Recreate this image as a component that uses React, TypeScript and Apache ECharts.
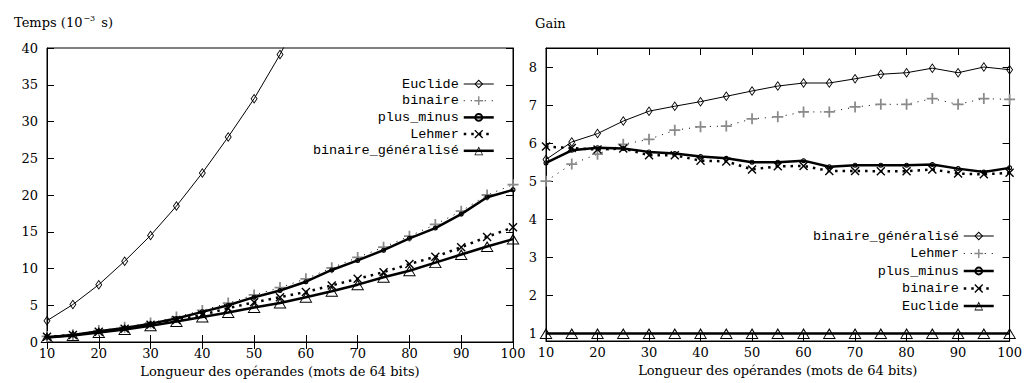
import React, { useEffect, useRef } from "react";
import * as echarts from "echarts";

// ---- data ----
const lengths = [10, 15, 20, 25, 30, 35, 40, 45, 50, 55, 60, 65, 70, 75, 80, 85, 90, 95, 100];

// Left chart: Temps (10^-3 s)
const tEuclide = [2.9, 5.1, 7.8, 11.0, 14.5, 18.5, 23.0, 27.9, 33.1, 39.1, 46, 52, 60, 68, 76, 85, 93, 104, 110];
const tBinaire = [0.75, 1.0, 1.55, 2.0, 2.6, 3.4, 4.3, 5.3, 6.4, 7.4, 8.6, 10.1, 11.5, 12.9, 14.4, 16.0, 17.8, 20.0, 21.4];
const tPlusMinus = [0.65, 0.95, 1.45, 1.9, 2.5, 3.2, 4.1, 5.0, 6.1, 7.0, 8.2, 9.8, 11.1, 12.5, 14.1, 15.5, 17.4, 19.7, 20.7];
const tLehmer = [0.7, 0.95, 1.4, 1.8, 2.35, 3.0, 3.7, 4.6, 5.4, 6.1, 6.8, 7.7, 8.6, 9.5, 10.6, 11.6, 12.9, 14.3, 15.6];
const tBinGen = [0.6, 0.9, 1.3, 1.7, 2.2, 2.8, 3.4, 4.0, 4.7, 5.3, 6.1, 6.9, 7.8, 8.8, 9.7, 10.8, 11.9, 13.0, 14.0];

// Right chart: Gain
const gBinGen = [5.57, 6.03, 6.25, 6.58, 6.84, 6.97, 7.09, 7.23, 7.37, 7.5, 7.58, 7.58, 7.69, 7.81, 7.85, 7.97, 7.85, 8.0, 7.93];
const gLehmer = [5.0, 5.45, 5.71, 5.97, 6.1, 6.34, 6.43, 6.45, 6.64, 6.69, 6.82, 6.82, 6.95, 7.02, 7.02, 7.17, 7.02, 7.17, 7.15];
const gPlusMinus = [5.48, 5.81, 5.88, 5.86, 5.77, 5.73, 5.65, 5.6, 5.5, 5.5, 5.54, 5.38, 5.42, 5.42, 5.42, 5.44, 5.33, 5.24, 5.35];
const gBinaire = [5.91, 5.87, 5.83, 5.86, 5.68, 5.68, 5.54, 5.52, 5.31, 5.39, 5.4, 5.27, 5.27, 5.26, 5.26, 5.31, 5.2, 5.18, 5.22];
const gEuclide = [1, 1, 1, 1, 1, 1, 1, 1, 1, 1, 1, 1, 1, 1, 1, 1, 1, 1, 1];

const leftNames = ["Euclide", "binaire", "plus_minus", "Lehmer", "binaire_généralisé"];
const rightNames = ["binaire_généralisé", "Lehmer", "plus_minus", "binaire", "Euclide"];
const leftTicksY = [0, 40, 5];
const rightTickValues = [1, 2, 3, 4, 5, 6, 7, 8];
const xTicks = [10, 100, 10];

const xAxisName = "Longueur des opérandes (mots de 64 bits)";

// outline (unfilled) point shapes, gnuplot-like
const DIAMOND = "path://M5,0L10,5L5,10L0,5Z M5,1.5L1.5,5L5,8.5L8.5,5Z";
const CIRCLE = "path://M5,0A5,5 0 1,1 5,10A5,5 0 1,1 5,0Z M5,2.2A2.8,2.8 0 1,0 5,7.8A2.8,2.8 0 1,0 5,2.2Z";
const TRIANGLE = "path://M5,0L10,10L0,10Z M5,2.1L1.2,9.1L8.8,9.1Z";
const PLUS = "path://M4.2,0H5.8V4.2H10V5.8H5.8V10H4.2V5.8H0V4.2H4.2Z";
const CROSS = "path://M0,1.1L1.1,0L5,3.9L8.9,0L10,1.1L6.1,5L10,8.9L8.9,10L5,6.1L1.1,10L0,8.9L3.9,5Z";

const SERIF = "DejaVu Serif";
const MONO = "Liberation Mono";

// styles by position (1..5)
const styles = [
  { symbol: DIAMOND, size: [7, 10], line: { width: 1, type: "solid" }, color: "#000" },
  { symbol: PLUS, size: 11, line: { width: 1, type: [1, 6] }, color: "#8a8a8a", lineColor: "#000" },
  { symbol: CIRCLE, size: 5, line: { width: 2.5, type: "solid" }, color: "#000" },
  { symbol: CROSS, size: 9, line: { width: 2.5, type: [2.5, 5] }, color: "#000" },
  { symbol: TRIANGLE, size: [13, 11], line: { width: 2.5, type: "solid" }, color: "#000" },
];

function mk(prefix: string, name: string, data: number[], idx: number, axis: number) {
  const s = styles[idx];
  return {
    type: "line",
    name: prefix + name,
    xAxisIndex: axis,
    yAxisIndex: axis,
    data: lengths.map((x, i) => [x, data[i]]),
    symbol: s.symbol,
    symbolSize: s.size,
    showAllSymbol: true,
    clip: true,
    z: 2 + idx,
    itemStyle: { color: s.color, borderWidth: 0 },
    lineStyle: { color: s.lineColor || "#000", width: s.line.width, type: s.line.type, cap: "butt" },
    emphasis: { disabled: true },
  };
}

const axisLabelStyle = { color: "#000", fontFamily: SERIF, fontSize: 13 };

function mainX(grid: number) {
  return {
    type: "value",
    gridIndex: grid,
    min: xTicks[0],
    max: xTicks[1],
    interval: xTicks[2],
    name: xAxisName,
    nameLocation: "middle",
    nameGap: 17,
    nameTextStyle: { color: "#000", fontFamily: SERIF, fontSize: 13 },
    axisLine: { show: true, lineStyle: { color: "#000", width: 1 } },
    axisTick: { show: true, inside: true, length: 7, lineStyle: { color: "#000" } },
    axisLabel: { ...axisLabelStyle, margin: 5 },
    splitLine: { show: false },
  };
}
function mirrorX(grid: number) {
  return {
    type: "value",
    gridIndex: grid,
    position: "top",
    min: xTicks[0],
    max: xTicks[1],
    interval: xTicks[2],
    axisLine: { show: true, lineStyle: { color: "#000", width: 1 } },
    axisTick: { show: true, inside: true, length: 7, lineStyle: { color: "#000" } },
    axisLabel: { show: false },
    splitLine: { show: false },
  };
}

export default function App() {
  const ref = useRef<HTMLDivElement>(null);
  useEffect(() => {
    if (!ref.current) return;
    const chart = echarts.init(ref.current, null, { renderer: "svg" });
    const leftData = [tEuclide, tBinaire, tPlusMinus, tLehmer, tBinGen];
    const rightData = [gBinGen, gLehmer, gPlusMinus, gBinaire, gEuclide];
    const series: any[] = [];
    leftNames.forEach((n, i) => series.push(mk("L:", n, leftData[i], i, 0)));
    rightNames.forEach((n, i) => series.push(mk("R:", n, rightData[i], i, 2)));
    const legendCommon = {
      orient: "vertical",
      align: "right",
      itemWidth: 30,
      itemHeight: 11,
      padding: 0,
      selectedMode: false,
      formatter: (n: string) => n.slice(2),
      textStyle: { color: "#000", fontFamily: MONO, fontSize: 13.5 },
    };
    const legendData = (prefix: string, names: string[]) =>
      names.map((n, i) => ({ name: prefix + n, lineStyle: { width: styles[i].line.width } }));
    const option: any = {
      animation: false,
      backgroundColor: "#fff",
      title: [
        {
          text: "Temps (10{sup|−3} s)",
          left: 9,
          top: 9,
          textStyle: {
            color: "#000",
            fontFamily: SERIF,
            fontSize: 13,
            fontWeight: "normal",
            rich: { sup: { fontSize: 8, verticalAlign: "top", padding: [0, 2, 8, 1], fontFamily: SERIF, color: "#000" } },
          },
        },
        {
          text: "Gain",
          left: 530,
          top: 12,
          textStyle: { color: "#000", fontFamily: SERIF, fontSize: 13, fontWeight: "normal" },
        },
      ],
      legend: [
        { ...legendCommon, data: legendData("L:", leftNames), right: 530, top: 77, itemGap: 2.7 },
        { ...legendCommon, data: legendData("R:", rightNames), right: 30, top: 229, itemGap: 3.5 },
      ],
      grid: [
        { left: 47, top: 48, width: 466, height: 294, show: true, borderColor: "#000", borderWidth: 1, backgroundColor: "transparent" },
        { left: 546, top: 48, width: 467, height: 293, show: true, borderColor: "#000", borderWidth: 1, backgroundColor: "transparent" },
      ],
      xAxis: [mainX(0), mirrorX(0), mainX(1), mirrorX(1)],
      yAxis: [
        {
          type: "value",
          gridIndex: 0,
          min: leftTicksY[0],
          max: leftTicksY[1],
          interval: leftTicksY[2],
          axisLine: { show: true, lineStyle: { color: "#000" } },
          axisTick: { show: true, inside: true, length: 7, lineStyle: { color: "#000" } },
          axisLabel: { ...axisLabelStyle, margin: 9 },
          splitLine: { show: false },
        },
        {
          type: "value",
          gridIndex: 0,
          position: "right",
          min: leftTicksY[0],
          max: leftTicksY[1],
          interval: leftTicksY[2],
          axisLine: { show: true, lineStyle: { color: "#000" } },
          axisTick: { show: true, inside: true, length: 7, lineStyle: { color: "#000" } },
          axisLabel: { show: false },
          splitLine: { show: false },
        },
        {
          type: "value",
          gridIndex: 1,
          min: 0.8,
          max: 8.5,
          axisLine: { show: true, lineStyle: { color: "#000" } },
          axisTick: { show: true, inside: true, length: 7, customValues: rightTickValues, lineStyle: { color: "#000" } },
          axisLabel: { ...axisLabelStyle, margin: 9, customValues: rightTickValues },
          splitLine: { show: false },
        },
        {
          type: "value",
          gridIndex: 1,
          position: "right",
          min: 0.8,
          max: 8.5,
          axisLine: { show: true, lineStyle: { color: "#000" } },
          axisTick: { show: true, inside: true, length: 7, customValues: rightTickValues, lineStyle: { color: "#000" } },
          axisLabel: { show: false, customValues: rightTickValues },
          splitLine: { show: false },
        },
      ],
      series,
    };
    chart.setOption(option);
    return () => chart.dispose();
  }, []);
  return (
    <div
      ref={ref}
      style={{ position: "absolute", left: 0, top: 0, width: 1025, height: 383, background: "#fff" }}
    />
  );
}
